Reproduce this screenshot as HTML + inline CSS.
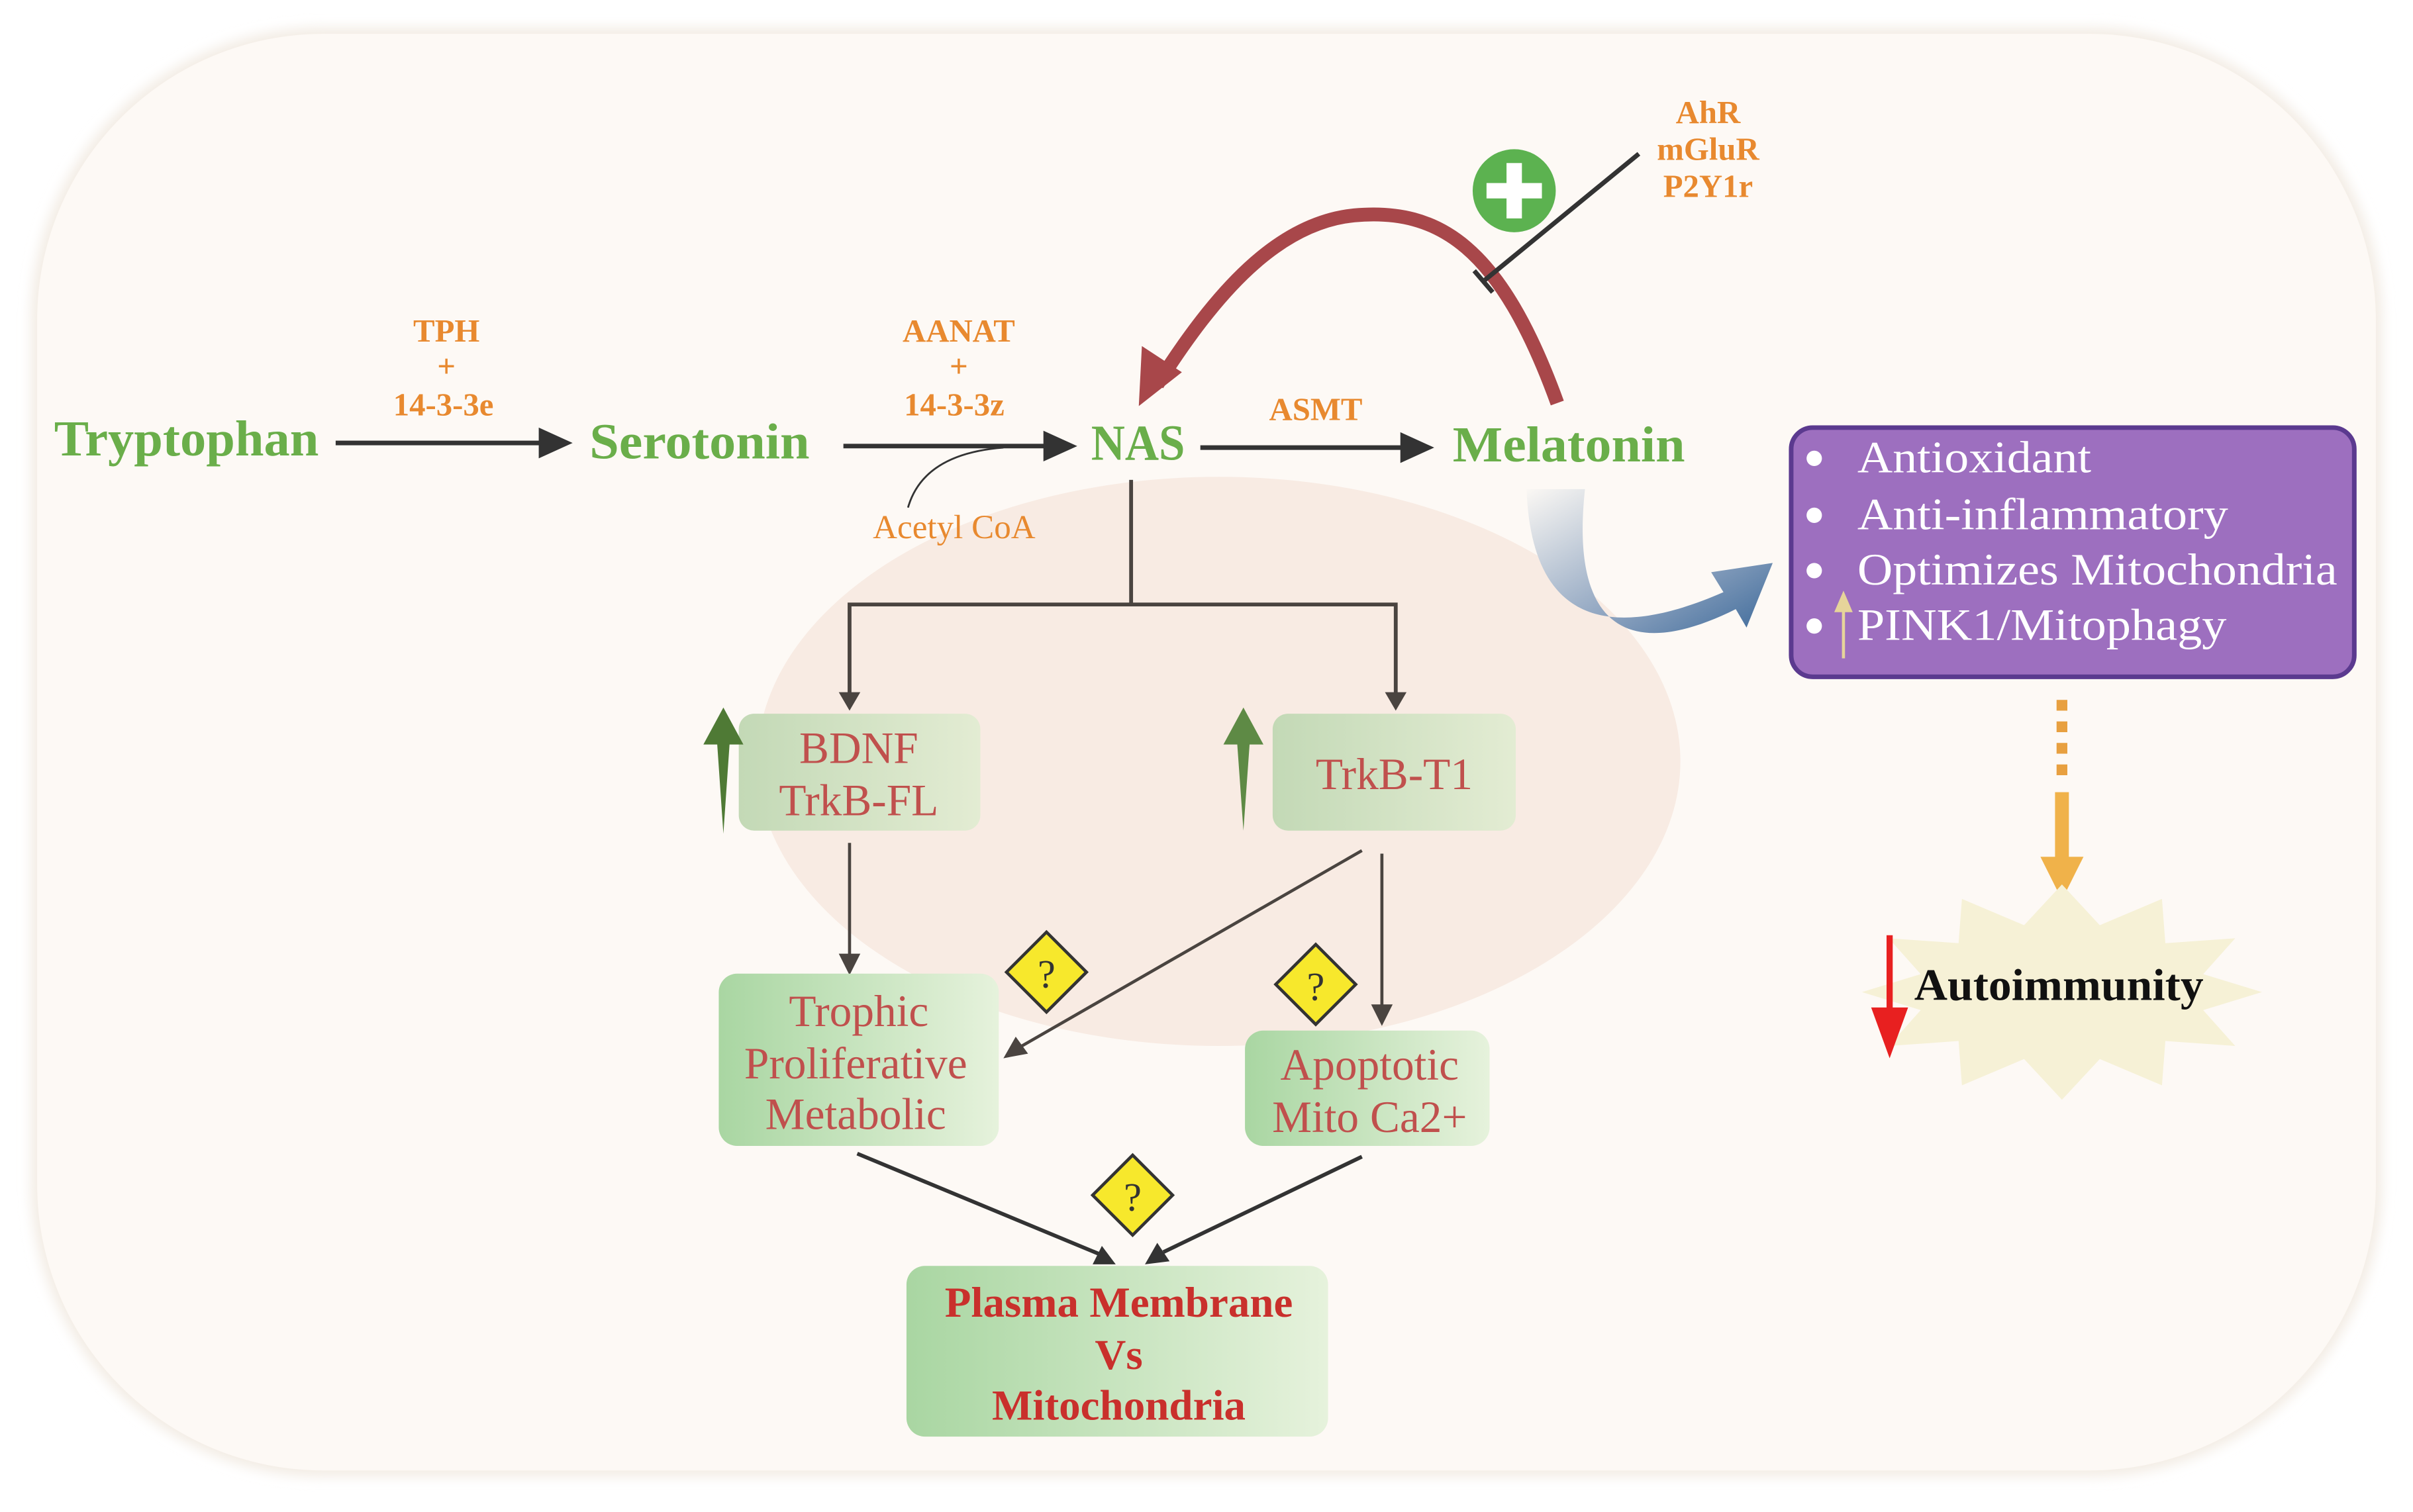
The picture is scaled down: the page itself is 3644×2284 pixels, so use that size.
<!DOCTYPE html>
<html><head><meta charset="utf-8"><style>
html,body{margin:0;padding:0;background:#fff;}
svg{display:block;}
text{font-family:"Liberation Serif",serif;}
</style></head><body>
<svg width="3644" height="2284" viewBox="0 0 1568 983" xmlns="http://www.w3.org/2000/svg">
<defs>
<linearGradient id="gb" x1="0" x2="1" y1="0" y2="0"><stop offset="0" stop-color="#a9d6a2"/><stop offset="1" stop-color="#e6f2dc"/></linearGradient>
<linearGradient id="gb2" x1="0" x2="1"><stop offset="0" stop-color="#c3d9b6"/><stop offset="1" stop-color="#e3ecd3"/></linearGradient>
<linearGradient id="bl" x1="0" x2="1" y1="0" y2="1"><stop offset="0" stop-color="#fbf8f4"/><stop offset="0.6" stop-color="#8ea4c0"/><stop offset="1" stop-color="#3e6a9a"/></linearGradient>
<filter id="blur"><feGaussianBlur stdDeviation="4"/></filter>
</defs>
<rect x="0" y="0" width="1568" height="983" fill="#fff"/>
<rect x="20" y="18" width="1528" height="942" rx="190" fill="#f3ece4" filter="url(#blur)"/>
<rect x="24" y="22" width="1520" height="934" rx="186" fill="#fdf9f5"/>
<ellipse cx="792" cy="495" rx="300" ry="185" fill="#f8ebe3"/>

<g font-weight="bold" fill="#6aae4a" font-size="33">
<text x="35" y="296" textLength="172" lengthAdjust="spacingAndGlyphs">Tryptophan</text>
<text x="383" y="298" textLength="143" lengthAdjust="spacingAndGlyphs">Serotonin</text>
<text x="709" y="299" textLength="61" lengthAdjust="spacingAndGlyphs">NAS</text>
<text x="944" y="300" textLength="151" lengthAdjust="spacingAndGlyphs">Melatonin</text>
</g>
<g stroke="#333" stroke-width="3" fill="none">
<line x1="218" y1="288" x2="352" y2="288"/>
<line x1="548" y1="290" x2="680" y2="290"/>
<line x1="780" y1="291" x2="912" y2="291"/>
</g>
<path d="M350,278 L372,288 L350,298 z" fill="#333"/>
<path d="M678,280 L700,290 L678,300 z" fill="#333"/>
<path d="M910,281 L932,291 L910,301 z" fill="#333"/>
<path d="M590,330 Q600,295 652,291" stroke="#333" stroke-width="1.2" fill="none"/>
<g fill="#e8892f" font-size="21" text-anchor="middle" font-weight="bold">
<text x="290" y="222">TPH</text><text x="290" y="245">+</text><text x="288" y="270">14-3-3e</text>
<text x="623" y="222">AANAT</text><text x="623" y="245">+</text><text x="620" y="270">14-3-3z</text>
<text x="855" y="273">ASMT</text>
<text x="620" y="350" font-weight="normal" font-size="22">Acetyl CoA</text>
<text x="1110" y="80">AhR</text><text x="1110" y="104">mGluR</text><text x="1110" y="128">P2Y1r</text>
</g>
<path d="M1012,262 C975,160 935,135 880,140 C830,145 790,190 752,250" stroke="#a8474a" stroke-width="9" fill="none"/>
<path d="M740,264 L742,225 L768,242 z" fill="#a8474a"/>
<circle cx="984" cy="124" r="27" fill="#5cb250"/>
<rect x="966" y="119" width="36" height="10" fill="#fff"/><rect x="979" y="106" width="10" height="36" fill="#fff"/>
<line x1="1065" y1="100" x2="965" y2="182" stroke="#333" stroke-width="3"/>
<line x1="958" y1="176" x2="970" y2="190" stroke="#333" stroke-width="3"/>

<path d="M992,318 C995,400 1040,420 1120,385 L1112,372 L1152,366 L1135,408 L1128,396 C1060,430 1020,410 1030,318 z" fill="url(#bl)"/>

<g stroke="#4a4440" stroke-width="2.5" fill="none">
<line x1="735" y1="312" x2="735" y2="393"/>
<polyline points="552,452 552,393 907,393 907,452"/>
</g>
<path d="M545,450 L559,450 L552,462 z" fill="#4a4440"/><path d="M900,450 L914,450 L907,462 z" fill="#4a4440"/>

<rect x="480" y="464" width="157" height="76" rx="10" fill="url(#gb2)"/>
<rect x="827" y="464" width="158" height="76" rx="10" fill="url(#gb2)"/>
<g fill="#c0504d" font-size="29" text-anchor="middle">
<text x="558" y="496">BDNF</text><text x="558" y="530">TrkB-FL</text>
<text x="906" y="513">TrkB-T1</text>
</g>
<path d="M470,542 L466,484 L457,484 L470,460 L483,484 L474,484 z" fill="#4f7a35"/>
<path d="M808,540 L804,484 L795,484 L808,460 L821,484 L812,484 z" fill="#5e8a45"/>

<g stroke="#4a4440" stroke-width="2" fill="none">
<line x1="552" y1="548" x2="552" y2="622"/>
<line x1="898" y1="555" x2="898" y2="655"/>
<line x1="885" y1="553" x2="664" y2="680"/>
</g>
<path d="M545,620 L559,620 L552,634 z" fill="#4a4440"/>
<path d="M891,653 L905,653 L898,667 z" fill="#4a4440"/>
<path d="M652,688 L660,674 L668,685 z" fill="#4a4440"/>

<rect x="467" y="633" width="182" height="112" rx="12" fill="url(#gb)"/>
<rect x="809" y="670" width="159" height="75" rx="12" fill="url(#gb)"/>
<g fill="#c0504d" font-size="29" text-anchor="middle">
<text x="558" y="667">Trophic</text><text x="556" y="701">Proliferative</text><text x="556" y="734">Metabolic</text>
<text x="890" y="702">Apoptotic</text><text x="890" y="736">Mito Ca2+</text>
</g>

<g stroke="#333" stroke-width="2.5" fill="none">
<line x1="557" y1="750" x2="716" y2="816"/>
<line x1="885" y1="752" x2="756" y2="814"/>
</g>
<path d="M725,822 L710,822 L716,810 z" fill="#333"/>
<path d="M744,822 L760,820 L752,808 z" fill="#333"/>

<rect x="589" y="823" width="274" height="111" rx="12" fill="url(#gb)"/>
<g fill="#c9302c" font-size="28" text-anchor="middle" font-weight="bold">
<text x="727" y="856">Plasma Membrane</text><text x="727" y="890">Vs</text><text x="727" y="923">Mitochondria</text>
</g>

<g stroke="#333" stroke-width="2" fill="#f7e82c">
<polygon points="680,606 706,632 680,658 654,632"/>
<polygon points="855,614 881,640 855,666 829,640"/>
<polygon points="736,751 762,777 736,803 710,777"/>
</g>
<g font-size="26" text-anchor="middle" fill="#333">
<text x="680" y="642">?</text><text x="855" y="650">?</text><text x="736" y="787">?</text>
</g>

<rect x="1164" y="278" width="366" height="162" rx="14" fill="#9d6fbf" stroke="#5b3a8f" stroke-width="3"/>
<g fill="#fff" font-size="29">
<circle cx="1179" cy="298" r="5"/><circle cx="1179" cy="335" r="5"/><circle cx="1179" cy="371" r="5"/><circle cx="1179" cy="407" r="5"/>
<text x="1207" y="307" textLength="152" lengthAdjust="spacingAndGlyphs">Antioxidant</text>
<text x="1207" y="344" textLength="241" lengthAdjust="spacingAndGlyphs">Anti-inflammatory</text>
<text x="1207" y="380" textLength="312" lengthAdjust="spacingAndGlyphs">Optimizes Mitochondria</text>
<text x="1207" y="416" textLength="240" lengthAdjust="spacingAndGlyphs">PINK1/Mitophagy</text>
</g>
<line x1="1198" y1="428" x2="1198" y2="396" stroke="#e6d49a" stroke-width="2"/>
<path d="M1192,398 L1198,384 L1204,398 z" fill="#e6d49a"/>

<line x1="1340" y1="455" x2="1340" y2="505" stroke="#e8a040" stroke-width="7" stroke-dasharray="7,7"/>
<line x1="1340" y1="515" x2="1340" y2="560" stroke="#f0b24a" stroke-width="9"/>
<path d="M1326,557 L1354,557 L1340,585 z" fill="#f0b24a"/>

<polygon fill="#f6f1d6" points="1470,645 1431.8,656.7 1452.6,680 1407.2,676.8 1405,705.6 1364.6,688.5 1340,715 1315.4,688.5 1275,705.6 1272.8,676.8 1227.4,680 1248.2,656.7 1210,645 1248.2,633.3 1227.4,610 1272.8,613.2 1275,584.4 1315.4,601.5 1340,575 1364.6,601.5 1405,584.4 1407.2,613.2 1452.6,610 1431.8,633.3"/>
<text x="1338" y="650" font-size="29" font-weight="bold" fill="#111" text-anchor="middle" textLength="188" lengthAdjust="spacingAndGlyphs">Autoimmunity</text>
<line x1="1228" y1="608" x2="1228" y2="660" stroke="#e82020" stroke-width="4"/>
<path d="M1216,655 L1240,655 L1228,688 z" fill="#e82020"/>
</svg>
</body></html>
